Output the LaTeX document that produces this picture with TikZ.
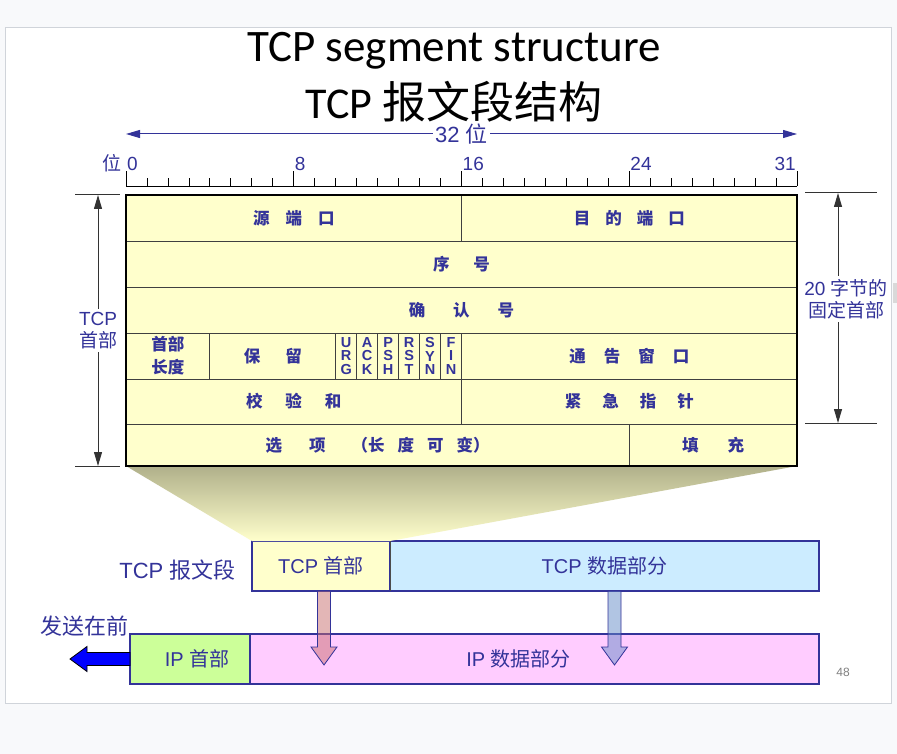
\documentclass[tikz,border=0pt]{standalone}
\usepackage{fontspec}
\setmainfont{Liberation Sans}
\newfontfamily\cjk{Noto Sans CJK SC}
\newfontfamily\titlefont{Carlito}
\usetikzlibrary{arrows.meta,calc}
\definecolor{TextClr}{RGB}{51,51,153}
\definecolor{FieldClr}{RGB}{255,255,204}
\definecolor{ShadeClr}{RGB}{176,176,138}
\definecolor{DataClr}{RGB}{204,236,255}
\definecolor{IpHdrClr}{RGB}{204,255,153}
\definecolor{IpDataClr}{RGB}{255,204,255}
\definecolor{PageClr}{RGB}{248,249,251}
\definecolor{FrameClr}{RGB}{208,212,218}
\definecolor{HdrArrowClr}{RGB}{200,110,110}
\definecolor{DataArrowClr}{RGB}{100,140,200}
\newcommand\zh[1]{{\cjk #1}}
\newcommand\fgap[1]{\hspace*{#1pt}}
\def\bw{20.97}

\tikzset{
  cell/.style n args={4}{minimum width={((#3)-(#1))*1pt},minimum height={((#4)-(#2))*1pt},
    at={({((#1)+(#3))/2},{((#2)+(#4))/2})}},
  field/.style={draw=black!75,line width=.8pt,fill=FieldClr,inner sep=0pt,outer sep=0pt,
    text=TextClr,font=\fontsize{16.5}{23}\selectfont\cjk\bfseries,align=center},
  flag/.style={field,font=\fontsize{14.5}{13.6}\selectfont\bfseries},
  lowbox/.style={draw=TextClr,line width=2pt,inner sep=0pt,outer sep=0pt,
    text=TextClr,font=\fontsize{20}{22}\selectfont},
  bluetext/.style={text=TextClr,font=\fontsize{19}{22}\selectfont,align=center},
  dimline/.style={black!80,line width=1pt},
  downarrow/.pic={\draw[pic actions] (-6.5,0) -- (6.5,0) -- (6.5,56) -- (13,56)
    -- (0,74) -- (-13,56) -- (-6.5,56) -- cycle;},
  leftarrow/.pic={\draw[pic actions] (0,-6.5) -- (-43,-6.5) -- (-43,-12.5) -- (-60,0)
    -- (-43,12.5) -- (-43,6.5) -- (0,6.5) -- cycle;}
}

\begin{document}
\begin{tikzpicture}[x=1pt,y=-1pt]
\useasboundingbox (0,0) rectangle (897,754);
\fill[PageClr] (0,0) rectangle (897,754);
\draw[FrameClr,fill=white] (5,27) rectangle (891,703);
\fill[black!15] (893,283) rectangle (897,303);

\node[inner sep=0pt] (title) at (454,51) {\titlefont\fontsize{45}{50}\selectfont TCP segment structure};
\node[inner sep=0pt] (subtitle) at (454,102) {\fontsize{44}{50}\selectfont{\titlefont TCP }\zh{报文段结构}};

\coordinate (wl) at (126,134);
\coordinate (wr) at (797,134);
\draw[TextClr,line width=1pt,{Triangle[length=14pt,width=8pt]}-{Triangle[length=14pt,width=8pt]}]
  (wl) -- (wr) node[midway,fill=white,inner sep=2pt,text=TextClr,font=\fontsize{22}{24}\selectfont] (width) {32 \zh{位}};

\draw[line width=.8pt] (126,186) -- (797,186);
\foreach \i in {0,...,32}{
  \draw[line width=.8pt] (126+\i*\bw,186) -- ++(0,-8);
}
\foreach \i in {0,8,...,32}{
  \draw[line width=.8pt] (126+\i*\bw,186) -- ++(0,-15);
}
\foreach \i/\t in {0/0,8/8,16/16,24/24}{
  \node[bluetext,anchor=south west,inner sep=1pt,font=\fontsize{19}{20}\selectfont] (bit\i) at (126+\i*\bw,172) {\t};
}
\node[bluetext,anchor=south east,inner sep=1pt,font=\fontsize{19}{20}\selectfont] (bit31) at (797,172) {31};
\node[bluetext,anchor=south east,inner sep=1pt,font=\fontsize{19}{20}\selectfont\cjk] (bitword) at (123,173) {位};

\node[field,cell={126}{195}{126+16*\bw}{241}] (srcport) {源\fgap{16}端\fgap{16}口};
\node[field,cell={126+16*\bw}{195}{797}{241}] (dstport) {目\fgap{15}的\fgap{15}端\fgap{15}口};
\node[field,cell={126}{241}{797}{287}] (seqnum) {序\fgap{24}号};
\node[field,cell={126}{287}{797}{333}] (acknum) {确\fgap{28}认\fgap{28}号};
\node[field,cell={126}{333}{126+4*\bw}{379}] (hdrlen) {首部\\长度};
\node[field,cell={126+4*\bw}{333}{126+10*\bw}{379}] (reserved) {保\fgap{25}留};
\foreach \f [count=\k from 10] in {{U\\R\\G},{A\\C\\K},{P\\S\\H},{R\\S\\T},{S\\Y\\N},{F\\I\\N}}{
  \node[flag,cell={126+\k*\bw}{333}{126+(\k+1)*\bw}{379}] (flag\k) {\f};
}
\node[field,cell={126+16*\bw}{333}{797}{379}] (window) {通\fgap{18}告\fgap{18}窗\fgap{18}口};
\node[field,cell={126}{379}{126+16*\bw}{424}] (checksum) {校\fgap{23}验\fgap{23}和};
\node[field,cell={126+16*\bw}{379}{797}{424}] (urgent) {紧\fgap{21}急\fgap{21}指\fgap{21}针};
\node[field,cell={126}{424}{126+24*\bw}{466}] (options) {选\fgap{27}项\fgap{26}（长\fgap{13}度\fgap{13}可\fgap{13}变）};
\node[field,cell={126+24*\bw}{424}{797}{466}] (padding) {填\fgap{29}充};
\draw[line width=2.4pt] (srcport.north west) rectangle (padding.south east);

\coordinate (lt) at (98,195);
\coordinate (lb) at (98,466);
\draw[dimline] (75,195) -- (120,195);
\draw[dimline] (75,466) -- (120,466);
\draw[dimline,{Triangle[length=14pt,width=8pt]}-{Triangle[length=14pt,width=8pt]}]
  (lt) -- (lb) node[midway,fill=white,inner sep=3pt,bluetext] (hdrlbl) {TCP\\\zh{首部}};

\coordinate (rt) at (838,193);
\coordinate (rb) at (838,423);
\draw[dimline] (805,193) -- (877,193);
\draw[dimline] (805,423) -- (877,423);
\draw[dimline,{Triangle[length=14pt,width=8pt]}-{Triangle[length=14pt,width=8pt]}]
  (rt) -- (rb) node[pos=.46,fill=white,inner sep=3pt,bluetext,xshift=8pt] (fixlbl) {20 \zh{字节的}\\\zh{固定首部}};

\node[lowbox,fill=FieldClr,cell={252}{541}{390}{591}] (tcphdr) {TCP \zh{首部}};
\node[lowbox,fill=DataClr,cell={390}{541}{819}{591}] (tcpdata) {TCP \zh{数据部分}};
\node[lowbox,fill=IpHdrClr,cell={130}{634}{250}{684}] (iphdr) {\fgap{14}IP \zh{首部}};
\node[lowbox,fill=IpDataClr,cell={250}{634}{819}{684}] (ipdata) {IP \zh{数据部分}\fgap{32}};
\draw[black!70,line width=.8pt] (tcphdr.north east) -- (tcphdr.south east);

\shade[top color=ShadeClr,bottom color=FieldClr] (options.south west) -- (padding.south east)
  -- (tcphdr.north east) -- (tcphdr.north west) -- cycle;
\draw[line width=2.4pt] (options.south west) -- (padding.south east);

\node[bluetext,anchor=east,font=\fontsize{22}{24}\selectfont] (seglbl) at (239,570) {TCP \zh{报文段}};
\node[bluetext,font=\fontsize{22}{24}\selectfont] (sendlbl) at (84,626) {\zh{发送在前}};
\node[text=black!50,font=\fontsize{12}{14}\selectfont] (pagenum) at (843,672) {48};

\pic[fill=HdrArrowClr,fill opacity=.5,draw=TextClr,line width=.8pt] at ($(tcphdr.south)+(3,0)$) {downarrow};
\pic[fill=DataArrowClr,fill opacity=.5,draw=TextClr,line width=.8pt] at ($(tcpdata.south)+(10,0)$) {downarrow};
\pic[fill=blue,draw=black,line width=.8pt] at (iphdr.west) {leftarrow};
\end{tikzpicture}
\end{document}
